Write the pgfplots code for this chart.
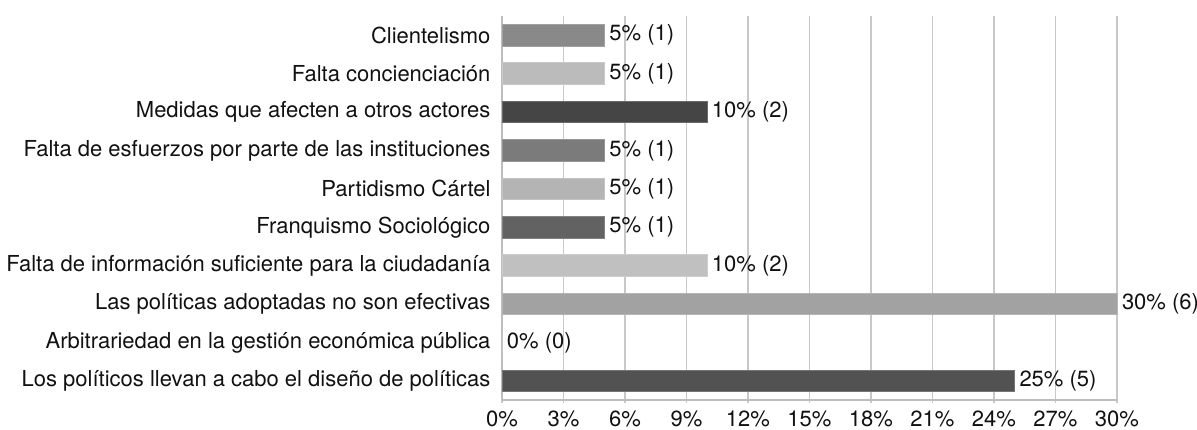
\documentclass[border=0pt]{standalone}
\usepackage{pgfplots}
\pgfplotsset{compat=1.18}
\usepackage{fontspec}
\setmainfont{TeX Gyre Heros}
\definecolor{gridgray}{HTML}{C8C8C8}
\definecolor{axgray}{HTML}{BDBDBD}
\definecolor{txt}{HTML}{111111}
\definecolor{c9}{HTML}{898989}
\definecolor{c8}{HTML}{BBBBBB}
\definecolor{c7}{HTML}{454545}
\definecolor{c6}{HTML}{7B7B7B}
\definecolor{c5}{HTML}{B4B4B4}
\definecolor{c4}{HTML}{626262}
\definecolor{c3}{HTML}{C0C0C0}
\definecolor{c2}{HTML}{A2A2A2}
\definecolor{c0}{HTML}{525252}
\begin{document}
\fontsize{11}{13}\selectfont
\begin{tikzpicture}
\path[use as bounding box] (-251pt,-14.5pt) rectangle (347.5pt,200pt);
\begin{axis}[
  at={(0,0)}, anchor=south west,
  scale only axis, width=307.5pt, height=192pt,
  font=\fontsize{11}{13}\selectfont,
  xmin=0, xmax=30, ymin=-0.5, ymax=9.5,
  xtick={0,3,6,9,12,15,18,21,24,27,30},
  xticklabels={0\%,3\%,6\%,9\%,12\%,15\%,18\%,21\%,24\%,27\%,30\%},
  ytick={0,1,2,3,4,5,6,7,8,9},
  yticklabels={Los políticos llevan a cabo el diseño de políticas,
    Arbitrariedad en la gestión económica pública,
    Las políticas adoptadas no son efectivas,
    Falta de información suficiente para la ciudadanía,
    Franquismo Sociológico,
    Partidismo Cártel,
    Falta de esfuerzos por parte de las instituciones,
    Medidas que afecten a otros actores,
    Falta concienciación,
    Clientelismo},
  xmajorgrids, grid style={draw=gridgray, line width=0.75pt},
  axis x line*=bottom, axis y line*=left,
  axis line style={-, draw=axgray, line width=0.75pt},
  tick align=outside, major tick length=1.6pt,
  xtick style={draw=gridgray, line width=0.75pt},
  ytick style={draw=none},
  yticklabel style={xshift=-0.3pt, text=txt},
  xticklabel style={text=txt},
  xbar, bar shift=0pt, bar width=0.56,
  point meta=explicit symbolic,
  nodes near coords,
  nodes near coords style={anchor=west, inner xsep=2.3pt, text=txt, font=\fontsize{11}{13}\selectfont},
  clip=false,
]
\addplot[fill=c0, draw=c0!80!white] coordinates {(25,0) [25\% (5)]};
\addplot[fill=white, draw=none] coordinates {(0,1) [0\% (0)]};
\addplot[fill=c2, draw=c2!80!white] coordinates {(30,2) [30\% (6)]};
\addplot[fill=c3, draw=c3!80!white] coordinates {(10,3) [10\% (2)]};
\addplot[fill=c4, draw=c4!80!white] coordinates {(5,4) [5\% (1)]};
\addplot[fill=c5, draw=c5!80!white] coordinates {(5,5) [5\% (1)]};
\addplot[fill=c6, draw=c6!80!white] coordinates {(5,6) [5\% (1)]};
\addplot[fill=c7, draw=c7!80!white] coordinates {(10,7) [10\% (2)]};
\addplot[fill=c8, draw=c8!80!white] coordinates {(5,8) [5\% (1)]};
\addplot[fill=c9, draw=c9!80!white] coordinates {(5,9) [5\% (1)]};
\end{axis}
\end{tikzpicture}
\end{document}
